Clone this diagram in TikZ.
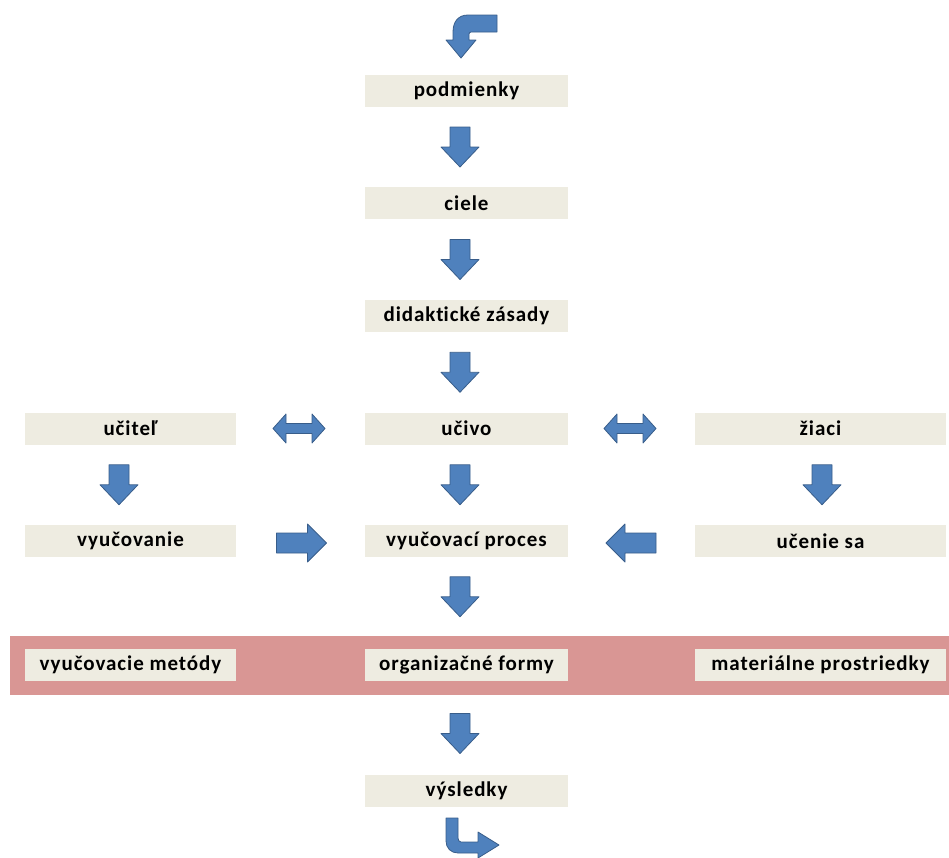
\documentclass[tikz,border=0pt]{standalone}
\usepackage{fontspec}
\setmainfont[Ligatures=NoCommon]{Carlito}
\usetikzlibrary{calc}
\definecolor{boxc}{HTML}{EEECE1}
\definecolor{pinkc}{HTML}{D99694}
\definecolor{arrfill}{HTML}{4F81BD}
\definecolor{arrline}{HTML}{385D8A}
\tikzset{
  stepbox/.style={fill=boxc, draw=none, inner sep=0pt, minimum height=32pt,
     font=\fontsize{21}{24}\selectfont\bfseries\addfontfeature{LetterSpace=4.5,Ligatures=NoCommon}},
  midbox/.style={stepbox, minimum width=203pt},
  sidebox/.style={stepbox, minimum width=211pt},
  rightbox/.style={stepbox, minimum width=251pt},
  blockarrow/.style={fill=arrfill, draw=arrline, line width=0.8pt, line join=round},
  downarr/.pic={\path[blockarrow] (-10,-20) -- (10,-20) -- (10,0) -- (19,0) -- (0,20) -- (-19,0) -- (-10,0) -- cycle;},
  rightarr/.pic={\path[blockarrow] (-25,-10) -- (6,-10) -- (6,-19) -- (25,0) -- (6,19) -- (6,10) -- (-25,10) -- cycle;},
  leftarr/.pic={\path[blockarrow] (25,-10) -- (-6,-10) -- (-6,-19) -- (-25,0) -- (-6,19) -- (-6,10) -- (25,10) -- cycle;},
  dblarr/.pic={\path[blockarrow] (-26,0) -- (-13,-14.5) -- (-13,-5) -- (13,-5) -- (13,-14.5) -- (26,0) -- (13,14.5) -- (13,5) -- (-13,5) -- (-13,14.5) -- cycle;}
}
\begin{document}
\begin{tikzpicture}[x=1pt,y=-1pt]
\useasboundingbox (0,0) rectangle (949,857);
\clip (0,0) rectangle (949,857);
% pink band
\fill[pinkc] (10,636) rectangle (949,695);
% nodes
\node[midbox] (pod) at (466.5,91) {podmienky};
\node[midbox] (cie) at (466.5,203) {ciele};
\node[midbox] (did) at (466.5,316) {didakt\kern0pt ické zásady};
\node[midbox] (uci) at (466.5,428.5) {učivo};
\node[midbox] (vp) at (466.5,541) {vyučovací proces};
\node[midbox] (org) at (466.5,664.5) {organizačné formy};
\node[midbox] (vys) at (466.5,790.5) {výsledky};
\node[sidebox] (ucit) at (130.5,428.5) {učiteľ};
\node[sidebox] (vyuc) at (130.5,541) {vyučovanie};
\node[sidebox] (met) at (130.5,664.5) {vyučovacie metódy};
\node[rightbox] (zia) at (820.5,428.5) {žiaci};
\node[rightbox] (uce) at (820.5,541) {učenie sa};
\node[rightbox] (mat) at (820.5,664.5) {materiálne prostriedky};
% down arrows
\pic (a1) at ($(pod.south)!0.5!(cie.north)+(-6.5,0)$) {downarr};
\pic (a2) at ($(cie.south)!0.5!(did.north)+(-6.5,0)$) {downarr};
\pic (a3) at ($(did.south)!0.5!(uci.north)+(-6.5,0)$) {downarr};
\pic (a4) at ($(uci.south)!0.5!(vp.north)+(-6.5,0)$) {downarr};
\pic (a5) at ($(vp.south)!0.5!(org.north)+(-6.5,-6)$) {downarr};
\pic (a6) at ($(org.south)!0.5!(vys.north)+(-6.5,6)$) {downarr};
\pic (a7) at ($(ucit.south)!0.5!(vyuc.north)+(-11.5,0)$) {downarr};
\pic (a8) at ($(zia.south)!0.5!(uce.north)+(1.5,0)$) {downarr};
% horizontal arrows
\pic (d1) at ($(ucit.east)!0.5!(uci.west)+(-1.5,0)$) {dblarr};
\pic (d2) at ($(uci.east)!0.5!(zia.west)+(-1.5,0)$) {dblarr};
\pic (h1) at ($(vyuc.east)!0.5!(vp.west)+(1,2)$) {rightarr};
\pic (h2) at ($(vp.east)!0.5!(uce.west)+(-0.5,2)$) {leftarr};
% bent arrows
\draw[blockarrow] (497,15) -- (468,15) .. controls (458,15) and (453,22) .. (453,32)
  -- (453,40) -- (446,40) -- (461,58) -- (476,40) -- (469,40) -- (469,34)
  .. controls (469,33) and (470,32) .. (471,32) -- (497,32) -- cycle;
\draw[blockarrow] (446,818) -- (458,818) -- (458,838) .. controls (458,840) and (459,842) .. (461,842)
  -- (478,842) -- (478,832) -- (499,845) -- (478,858) -- (478,853) -- (458,853)
  .. controls (451,853) and (446,848) .. (446,841) -- cycle;
\end{tikzpicture}
\end{document}
